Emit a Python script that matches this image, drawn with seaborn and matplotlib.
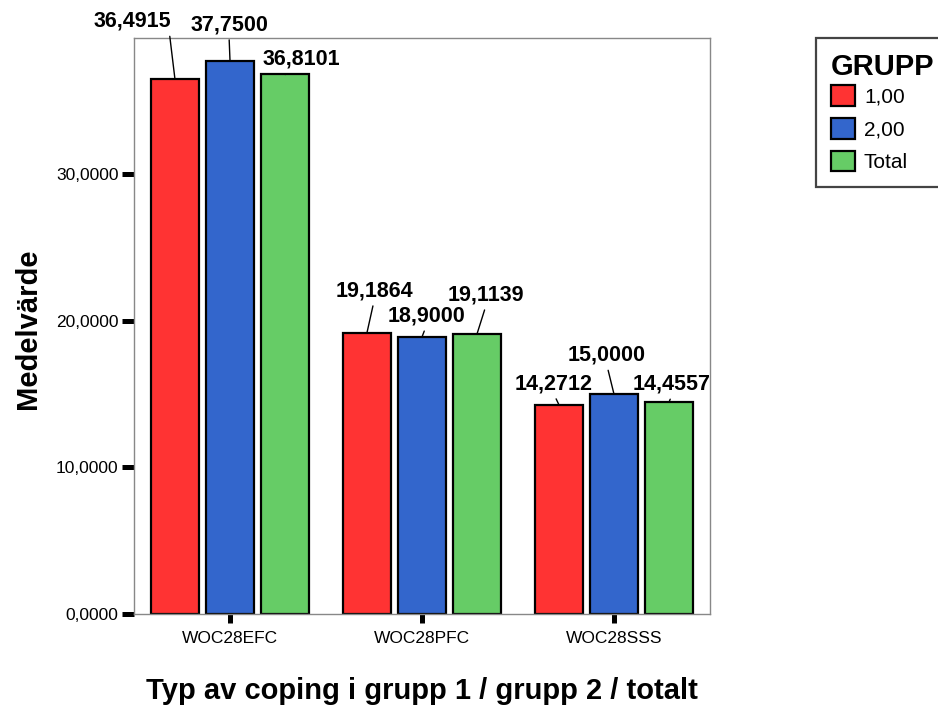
import matplotlib
matplotlib.use("Agg")
import matplotlib.pyplot as plt
import numpy as np
import pandas as pd
import seaborn as sns

# ---- data ----
categories = ["WOC28EFC", "WOC28PFC", "WOC28SSS"]
groups = ["1,00", "2,00", "Total"]
values_g1 = [36.4915, 19.1864, 14.2712]
values_g2 = [37.7500, 18.9000, 15.0000]
values_total = [36.8101, 19.1139, 14.4557]
y_ticks = [0, 10, 20, 30]

colors = ["#FF3333", "#3366CC", "#66CC66"]

df = pd.DataFrame({
    "category": categories * 3,
    "group": [groups[0]] * 3 + [groups[1]] * 3 + [groups[2]] * 3,
    "value": values_g1 + values_g2 + values_total,
})

sns.set_style("white")
plt.rcParams["font.family"] = ["Liberation Sans", "DejaVu Sans"]
plt.rcParams["text.color"] = "black"
plt.rcParams["axes.labelcolor"] = "black"
plt.rcParams["xtick.color"] = "black"
plt.rcParams["ytick.color"] = "black"

W, H = 938, 707
fig = plt.figure(figsize=(W / 100, H / 100), dpi=100)
ax = fig.add_axes([134 / W, 1 - 614 / H, (710 - 134) / W, (614 - 38) / H])

sns.barplot(data=df, x="category", y="value", hue="group",
            order=categories, hue_order=groups, palette=colors,
            width=0.86, gap=0.14, edgecolor="black", linewidth=1.6,
            errorbar=None, ax=ax, saturation=1)

ax.set_xlim(-0.5, 2.5)
ax.set_ylim(0, 39.3)
ax.set_yticks(y_ticks)
ax.set_yticklabels([f"{t:.4f}".replace(".", ",") for t in y_ticks], fontsize=12.5)
ax.set_xticks(range(len(categories)))
ax.set_xticklabels(categories, fontsize=12.5)
ax.tick_params(axis="y", direction="out", length=8.6, width=3.6, color="black",
               labelcolor="black", pad=2.5, left=True)
ax.tick_params(axis="x", direction="out", length=6.5, width=3.6, color="black",
               labelcolor="black", pad=6, bottom=True)
for s in ax.spines.values():
    s.set_color("#888888")
    s.set_linewidth(1.0)
ax.set_xlabel("")
ax.set_ylabel("")

# value labels with leader lines (layout offsets in pixels)
label_offsets = [
    [(-43, 58), (7, 42), (-5, 21)],
    [(-1, 36), (4, 21), (-7, 39)],
    [(16, 15), (9, 39), (3, 18)],
]
for gi, cont in enumerate(ax.containers):
    for ci, bar in enumerate(cont):
        v = bar.get_height()
        dx, dy = label_offsets[gi][ci]
        rx = 0.98 if (gi == 0 and ci == 0) else 0.5
        ax.annotate(f"{v:.4f}".replace(".", ","),
                    xy=(bar.get_x() + bar.get_width() / 2, v),
                    xytext=(dx, dy), textcoords="offset pixels",
                    ha="center", va="center", fontsize=15.5, fontweight="bold",
                    color="black", annotation_clip=False,
                    arrowprops=dict(arrowstyle="-", color="black", lw=1.0,
                                    relpos=(rx, 0), shrinkA=1, shrinkB=0))

# axis titles
fig.text(422 / W, 1 - 691 / H, "Typ av coping i grupp 1 / grupp 2 / totalt",
         ha="center", va="center", fontsize=21, fontweight="bold", color="black")
fig.text(28 / W, 1 - 329 / H, "Medelvärde", rotation=90,
         ha="center", va="center", fontsize=21, fontweight="bold", color="black")

# legend
handles, labels = ax.get_legend_handles_labels()
if ax.get_legend() is not None:
    ax.get_legend().remove()
leg = ax.legend(handles, labels, title="GRUPP", loc="upper left",
                bbox_to_anchor=(816 / W, 1 - 38 / H), bbox_transform=fig.transFigure,
                borderaxespad=0, frameon=True, fancybox=False, framealpha=1,
                edgecolor="#444444", fontsize=15,
                title_fontproperties={"weight": "bold", "size": 21},
                handlelength=1.15, handleheight=1.15, labelspacing=0.55,
                handletextpad=0.45, borderpad=0.7, alignment="left")
leg.get_frame().set_linewidth(1.6)
leg._legend_box.sep = 3.2
for t in leg.get_texts():
    t.set_color("black")
leg.get_title().set_color("black")
for h in leg.legend_handles:
    h.set_edgecolor("black")
    h.set_linewidth(1.6)

fig.savefig("out.png", dpi=100)
